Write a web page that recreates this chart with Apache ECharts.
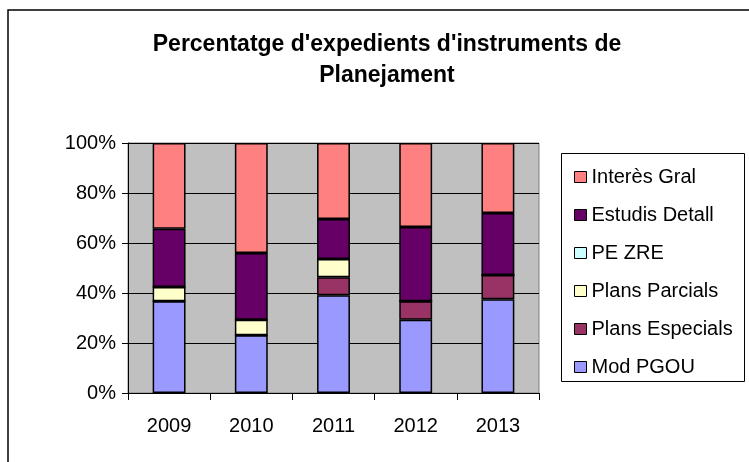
<!DOCTYPE html>
<html>
<head>
<meta charset="utf-8">
<script src="https://cdn.jsdelivr.net/npm/echarts@6/dist/echarts.min.js"></script>
<style>
html,body{margin:0;padding:0;background:#fff;}
#chart{width:749px;height:462px;}
</style>
</head>
<body>
<div id="chart"></div>
<script>
var years = ['2009', '2010', '2011', '2012', '2013'];
var modPGOU = [36.7, 23.1, 39.1, 29.3, 37.5];
var plansEspecials = [0, 0, 7.2, 7.4, 9.7];
var plansParcials = [5.7, 6.2, 7.3, 0, 0];
var peZRE = [0, 0, 0, 0, 0];
var estudisDetall = [23.3, 26.7, 16.0, 29.7, 24.8];
var interesGral = [34.3, 44.0, 30.4, 33.6, 28.0];
var yTicks = ['0%', '20%', '40%', '60%', '80%', '100%'];

var seriesDefs = [
  {name: 'Mod PGOU', data: modPGOU, color: '#9999FF'},
  {name: 'Plans Especials', data: plansEspecials, color: '#993366'},
  {name: 'Plans Parcials', data: plansParcials, color: '#FFFFCC'},
  {name: 'PE ZRE', data: peZRE, color: '#CCFFFF'},
  {name: 'Estudis Detall', data: estudisDetall, color: '#660066'},
  {name: 'Interès Gral', data: interesGral, color: '#FF8080'}
];

var chart = echarts.init(document.getElementById('chart'), null, {renderer: 'canvas'});
var font = 'Liberation Sans, Arial, sans-serif';
chart.setOption({
  animation: false,
  backgroundColor: '#fff',
  title: {
    text: "Percentatge d'expedients d'instruments de\nPlanejament",
    left: 382, top: 24, textAlign: 'center',
    textStyle: {fontFamily: font, fontWeight: 'bold', fontSize: 23, lineHeight: 31, color: '#000'}
  },
  graphic: [
    {type: 'rect', shape: {x: 8, y: 10, width: 800, height: 500}, style: {fill: 'none', stroke: '#000', lineWidth: 1.5}, z: 100},
    {type: 'rect', shape: {x: 561.5, y: 153.5, width: 183, height: 228}, style: {fill: '#fff', stroke: '#000', lineWidth: 1}, z: 0}
  ],
  legend: {
    orient: 'vertical', left: 569, top: 162,
    data: seriesDefs.map(function(s){return s.name;}).reverse(),
    itemWidth: 12, itemHeight: 11, itemGap: 18, icon: 'rect',
    itemStyle: {borderColor: '#000', borderWidth: 1},
    textStyle: {fontFamily: font, fontSize: 20, lineHeight: 20, color: '#000'},
    z: 10
  },
  grid: {left: 128, right: 210, top: 143, bottom: 69, show: true, backgroundColor: '#C0C0C0', borderColor: '#808080', borderWidth: 1},
  xAxis: {
    type: 'category', data: years,
    axisLine: {lineStyle: {color: '#000', width: 1}},
    axisTick: {show: true, alignWithLabel: false, length: 7, lineStyle: {color: '#000'}},
    axisLabel: {fontFamily: font, fontSize: 20, color: '#000', margin: 23}
  },
  yAxis: {
    type: 'value', min: 0, max: 100, interval: 20,
    axisLine: {show: true, lineStyle: {color: '#000', width: 1}},
    axisTick: {show: true, length: 6, lineStyle: {color: '#000'}},
    axisLabel: {fontFamily: font, fontSize: 20, color: '#000', margin: 12,
      formatter: function(v){ return yTicks[Math.round(v/20)]; }},
    splitLine: {lineStyle: {color: '#000', width: 1}}
  },
  series: seriesDefs.map(function(s){
    return {
      name: s.name, type: 'bar', stack: 'total', data: s.data,
      barWidth: '40%',
      itemStyle: {color: s.color, borderColor: '#000', borderWidth: 1.5}
    };
  })
});
</script>
</body>
</html>
